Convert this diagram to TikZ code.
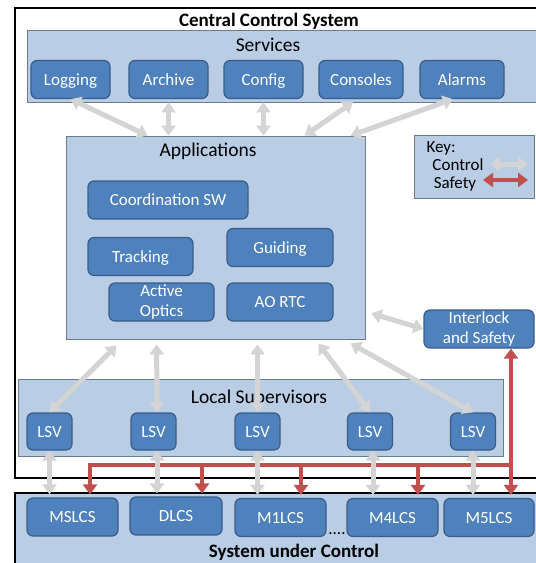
\documentclass[tikz,border=0pt]{standalone}
\usepackage{fontspec}
\setmainfont{Carlito}
\usetikzlibrary{arrows.meta,calc}
\definecolor{boxblue}{HTML}{4F81BD}
\definecolor{boxedge}{HTML}{385D8A}
\definecolor{areablue}{HTML}{B9CDE5}
\definecolor{areaedge}{HTML}{6D7A8C}
\definecolor{ctlgray}{HTML}{D4D4D4}
\definecolor{safred}{HTML}{C0504D}
\begin{document}
\begin{tikzpicture}[x=1pt,y=-1pt,
	blk/.style={rectangle, rounded corners=6pt, fill=boxblue, draw=boxedge, line width=1.2pt, text=white, font=\fontsize{17}{20}\selectfont, align=center, minimum height=38pt, inner sep=0pt, text height=11pt, text depth=0pt},
	two/.style={text height=, text depth=},
	area/.style={rectangle, fill=areablue, draw=areaedge, line width=0.8pt, inner sep=0pt},
	frame/.style={rectangle, draw=black, line width=2.2pt, inner sep=0pt},
	head/.style={font=\fontsize{19}{23}\selectfont\bfseries, anchor=base},
	lbl/.style={font=\fontsize{19.5}{23}\selectfont, anchor=base},
	ctl/.style={draw=ctlgray, line width=5pt, {Triangle[width=14pt,length=10pt]}-{Triangle[width=14pt,length=10pt]}},
	saf/.style={draw=safred, line width=4.5pt},
	tip/.style={-{Triangle[width=14pt,length=10pt]}}]
			\useasboundingbox (0,0) rectangle (536,563);
			\clip (0,0) rectangle (536,563);
			\node[frame, fill=white, minimum width=545pt, minimum height=470pt] (ccs) at (287.5,243){};
			\node[frame, fill=areablue, minimum width=545pt, minimum height=90pt] (suc) at (287.5,538){};
			\node[head] (ccstitle) at (269,26){Central Control System};
			\node[head] (suctitle) at (294,557){System under Control};
			\node[area, minimum width=533pt, minimum height=72pt] (services) at (293.5,66){};
			\node[lbl] (servtitle) at (268,51){Services};
			\node[blk, minimum width=79pt] (logging) at (70.5,79.5){Logging};
			\node[blk, minimum width=79pt] (archive) at (168.5,79.5){Archive};
			\node[blk, minimum width=79pt] (config) at (263.5,79.5){Config};
			\node[blk, minimum width=84pt] (consoles) at (361,79.5){Consoles};
			\node[blk, minimum width=84pt] (alarms) at (462,79.5){Alarms};
			\node[area, minimum width=299pt, minimum height=203pt] (apps) at (215.5,237.5){};
			\node[lbl] (appstitle) at (208,156){Applications};
			\node[blk, minimum width=160pt] (coord) at (168,200){Coordination SW};
			\node[blk, minimum width=105pt] (tracking) at (140.5,256.5){Tracking};
			\node[blk, minimum width=106pt] (guiding) at (280,247.5){Guiding};
			\node[blk, two, minimum width=105pt] (aco) at (161.5,302){Active\\Optics};
			\node[blk, minimum width=106pt] (aortc) at (280,302){AO RTC};
			\node[area, minimum width=120pt, minimum height=63pt] (key) at (474,166.5){};
			\node[lbl, font=\fontsize{17}{20}\selectfont, anchor=base west] (keytitle) at (423,152){Key:};
			\node[lbl, font=\fontsize{17}{20}\selectfont] (keyctl) at (458,170){Control};
			\node[lbl, font=\fontsize{17}{20}\selectfont] (keysaf) at (455,188){Safety};
			\node[blk, two, minimum width=110pt] (interlock) at (479,329){Interlock\\and Safety};
			\node[area, minimum width=485pt, minimum height=77pt] (lsvbox) at (260.5,417.5){};
			\node[lbl] (lsvtitle) at (259,403){Local Supervisors};
			\node[blk, minimum width=45pt, minimum height=37pt] (lsv1) at (49.5,431.5){LSV};
			\node[blk, minimum width=45pt, minimum height=37pt] (lsv2) at (153.5,431.5){LSV};
			\node[blk, minimum width=45pt, minimum height=37pt] (lsv3) at (257.5,431.5){LSV};
			\node[blk, minimum width=45pt, minimum height=37pt] (lsv4) at (370,431.5){LSV};
			\node[blk, minimum width=45pt, minimum height=37pt] (lsv5) at (473,431.5){LSV};
			\node[blk, minimum width=91pt] (mslcs) at (72.5,517){MSLCS};
			\node[blk, minimum width=92pt] (dlcs) at (176,516){DLCS};
			\node[blk, minimum width=91pt] (m1lcs) at (280.5,517.5){M1LCS};
			\node[blk, minimum width=91pt] (m4lcs) at (392.5,517.5){M4LCS};
			\node[blk, minimum width=90pt] (m5lcs) at (489,517.5){M5LCS};
			\node[font=\fontsize{17}{20}\selectfont, anchor=base, inner sep=0pt] (dots) at (337,534){....};
			\draw[ctl] (logging.south) -- ($(apps.north west)+(82,0)$);
			\draw[ctl] (archive.south |- services.south) -- (archive.south |- apps.north);
			\draw[ctl] (config.south |- services.south) -- (config.south |- apps.north);
			\draw[ctl] ($(consoles.south)+(-8,3)$) -- ($(apps.north west)+(239,0)$);
			\draw[ctl] ($(alarms.south)+(-9,0)$) -- ($(apps.north west)+(285,0)$);
			\draw[ctl] ($(apps.south east)+(6,-26)$) -- (interlock.west);
			\draw[ctl] ($(apps.south west)+(51,6)$) -- (lsv1.north);
			\draw[ctl] ($(apps.south west)+(91,5)$) -- ($(lsv2.north)+(3.5,0)$);
			\draw[ctl] ($(lsv3.north |- apps.south)+(0,5)$) -- (lsv3.north);
			\draw[ctl] ($(apps.south west)+(253,4)$) -- (lsv4.north);
			\draw[ctl] ($(apps.south west)+(285,4)$) -- (lsv5.north);
			\coordinate (kc1) at (490,164);
			\coordinate (kc2) at (528,164);
			\coordinate (ks1) at (483,180);
			\coordinate (ks2) at (528,180);
			\draw[ctl] (kc1) -- (kc2);
			\draw[saf, {Triangle[width=14pt,length=10pt]}-{Triangle[width=14pt,length=10pt]}] (ks1) -- (ks2);
			\coordinate (busl) at (90,465);
			\coordinate (busr) at (511,465);
			\coordinate (drop2) at (202,465);
			\coordinate (drop3) at (301,465);
			\coordinate (drop4) at (418,465);
			\draw[saf, tip, line join=miter] (busr) -- (busl) -- ($(busl |- mslcs.north)+(0,-3)$);
			\draw[saf, tip] (drop2) -- ($(drop2 |- dlcs.north)+(0,-3)$);
			\draw[saf, tip] (drop3) -- ($(drop3 |- m1lcs.north)+(0,-3)$);
			\draw[saf, tip] (drop4) -- ($(drop4 |- m4lcs.north)+(0,-3)$);
			\draw[saf, {Triangle[width=14pt,length=10pt]}-{Triangle[width=14pt,length=10pt]}] (busr |- interlock.south) -- ($(busr |- m5lcs.north)+(0,-3)$);
			\foreach \n/\m/\d in {lsv1/mslcs/0, lsv2/dlcs/3.5, lsv3/m1lcs/0, lsv4/m4lcs/3, lsv5/m5lcs/0}
				\draw[ctl] ($(\n.south)+(\d,0)$) -- ($(\n.south |- \m.north)+(\d,-3)$);
\end{tikzpicture}
\end{document}
